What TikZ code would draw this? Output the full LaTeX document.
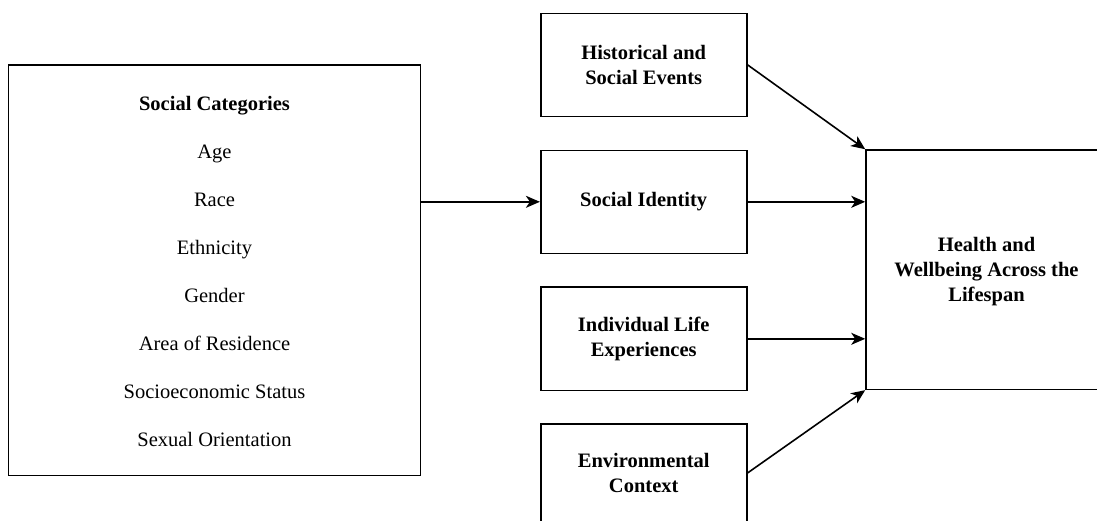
\documentclass[tikz,border=0pt]{standalone}
\usepackage{fontspec}
\setmainfont{Liberation Serif}
\newfontfamily\tnr{Liberation Serif}
\usetikzlibrary{arrows.meta}
\begin{document}
\begin{tikzpicture}[x=1pt,y=-1pt,
  box/.style={draw, line width=1.6pt, inner sep=0pt, minimum width=#1},
  bold/.style={font=\tnr\fontsize{20.5}{25}\selectfont\bfseries, align=center},
  plain/.style={font=\tnr\fontsize{20.5}{25}\selectfont, anchor=base},
  conn/.style={line width=1.6pt, -{Stealth[length=14pt,width=12pt,inset=4pt]}}]
\useasboundingbox (0,0) rectangle (1097,520);
\clip (0,0) rectangle (1097,520);
% left box
\node[box=412pt, minimum height=410.7pt] (cats) at (214.5,270.3) {};
\node[plain, font=\tnr\fontsize{20.5}{25}\selectfont\bfseries] (t0) at (214.5,110) {Social Categories};
\node[plain] (t1) at (214.5,158) {Age};
\node[plain] (t2) at (214.5,206) {Race};
\node[plain] (t3) at (214.5,254) {Ethnicity};
\node[plain] (t4) at (214.5,302) {Gender};
\node[plain] (t5) at (214.5,350) {Area of Residence};
\node[plain] (t6) at (214.5,398) {Socioeconomic Status};
\node[plain] (t7) at (214.5,446) {Sexual Orientation};
% middle boxes
\node[box=206pt, minimum height=103pt, bold] (hist) at (643.7,64.8) {Historical and\\Social Events};
\node[box=206pt, minimum height=103pt, bold] (ident) at (643.7,201.8) {Social Identity};
\node[box=206pt, minimum height=103.3pt, bold] (indiv) at (643.7,338.8) {Individual Life\\Experiences};
\node[box=206pt, minimum height=98pt, bold] (env) at (643.7,473) {Environmental\\Context};
% right box
\node[box=241pt, minimum height=239.3pt] (health) at (986.5,269.7) {};
\node[bold] (htext) at (986.5,272) {Health and\\Wellbeing Across the\\Lifespan};
% connectors
\draw[conn] (cats.east |- ident.west) -- (ident.west);
\draw[conn] (hist.east) -- (health.north west);
\draw[conn] (ident.east) -- (health.west |- ident.east);
\draw[conn] (indiv.east) -- (health.west |- indiv.east);
\draw[conn] (env.east) -- (health.south west);
\end{tikzpicture}
\end{document}
